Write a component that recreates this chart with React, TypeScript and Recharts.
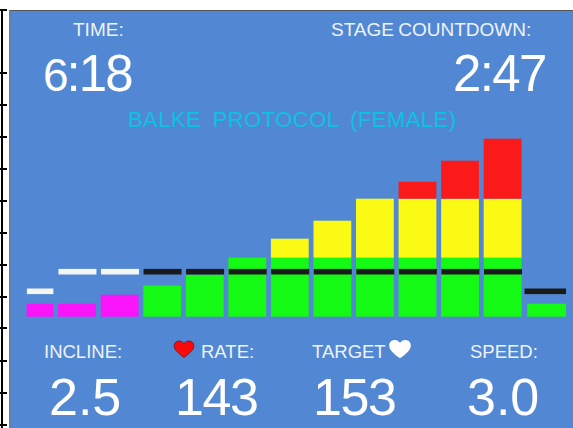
import React from 'react';
import { ComposedChart, Bar, Line, XAxis, YAxis } from 'recharts';

// Treadmill stage bars: heights in chart units (about one unit per pixel)
const stages = ['1', '2', '3', '4', '5', '6', '7', '8', '9', '10', '11', '12', '13'];
const magentaValues = [13, 13, 22, 0, 0, 0, 0, 0, 0, 0, 0, 0, 0];
const greenValues = [0, 0, 0, 31, 42, 59, 59, 59, 59, 59, 59, 59, 13];
const yellowValues = [0, 0, 0, 0, 0, 0, 19, 37, 59, 59, 59, 59, 0];
const redValues = [0, 0, 0, 0, 0, 0, 0, 0, 0, 17, 38, 60, 0];
const whiteMarks = [25.4, 45, 45, null, null, null, null, null, null, null, null, null, null];
const blackMarks = [null, null, null, 45, 45, 45, 45, 45, 45, 45, 45, 45, 25.4];

const rulerTicks = [10, 73, 105, 137, 169, 201, 233, 265, 297, 328, 361, 393, 425];

const data = stages.map((stage, i) => ({
  stage,
  magenta: magentaValues[i],
  green: greenValues[i],
  yellow: yellowValues[i],
  red: redValues[i],
  white: whiteMarks[i],
  black: blackMarks[i],
}));

const FONT = '"Liberation Sans", Arial, sans-serif';
const HEART = 'M10 17.5 C4 12.5 1 9.5 1 5.8 C1 3 3 1 5.6 1 C7.4 1 9 2 10 3.6 C11 2 12.6 1 14.4 1 C17 1 19 3 19 5.8 C19 9.5 16 12.5 10 17.5 Z';

// first and last stage are drawn a little off the regular slot
const StageBar = (props: any) => {
  const { x, y, width, height, fill, index } = props;
  if (!height) return null;
  let left = x;
  let w = width;
  if (index === 0) {
    left = x + 11;
    w = width - 11;
  }
  if (index === 12) {
    left = x + 1;
    w = width + 1;
  }
  return <rect x={left} y={y} width={w} height={height} fill={fill} />;
};

const makeMark = (color: string) => (props: any) => {
  const { cx, cy, index } = props;
  if (cy == null || cx == null) return <g key={index} />;
  let left = cx - 19;
  let w = 38;
  if (index === 0) {
    left = cx - 8;
    w = 26.5;
  }
  if (index === 12) {
    left = cx - 21;
    w = 41.5;
  }
  return <rect key={index} x={left} y={cy - 2.8} width={w} height={5.6} fill={color} />;
};

const Label = ({ x, y, size, color = '#eef3fb', spacing, wordSpacing, children }: any) => (
  <div
    style={{
      position: 'absolute',
      left: x,
      top: y,
      fontFamily: FONT,
      fontSize: size,
      lineHeight: 1,
      color,
      letterSpacing: spacing,
      wordSpacing,
      whiteSpace: 'nowrap',
    }}
  >
    {children}
  </div>
);

const App: React.FC = () => {
  return (
    <div style={{ position: 'absolute', left: 0, top: 0, width: 573, height: 428, background: '#fff', overflow: 'hidden' }}>
      {/* ruler on the left edge */}
      <div style={{ position: 'absolute', left: 1, top: 10, width: 2, height: 418, background: '#000' }} />
      {rulerTicks.map((t) => (
        <div key={t} style={{ position: 'absolute', left: 0, top: t - 1, width: 7, height: 2, background: '#000' }} />
      ))}

      <div
        style={{
          position: 'absolute',
          left: 9,
          top: 10,
          width: 564,
          height: 418,
          boxSizing: 'border-box',
          background: '#5288d3',
          borderTop: '1px solid #555',
          borderLeft: '2px solid #5f7fae',
        }}
      />

      <div style={{ position: 'absolute', left: 0, top: 0 }}>
        <ComposedChart
          width={573}
          height={428}
          data={data}
          margin={{ top: 136.7, right: 6.2, bottom: 111.3, left: 13.6 }}
          barCategoryGap={0}
          barSize={37.8}
        >
          <XAxis dataKey="stage" hide />
          <YAxis hide domain={[0, 180]} />
          <Bar dataKey="magenta" stackId="a" fill="#fa14fa" shape={StageBar} isAnimationActive={false} />
          <Bar dataKey="green" stackId="a" fill="#14fa14" shape={StageBar} isAnimationActive={false} />
          <Bar dataKey="yellow" stackId="a" fill="#fafa14" shape={StageBar} isAnimationActive={false} />
          <Bar dataKey="red" stackId="a" fill="#fa1a1a" shape={StageBar} isAnimationActive={false} />
          <Line dataKey="white" stroke="none" dot={makeMark('#f5f5f5')} activeDot={false} isAnimationActive={false} />
          <Line dataKey="black" stroke="none" dot={makeMark('#1a1a1a')} activeDot={false} isAnimationActive={false} />
        </ComposedChart>
      </div>

      <Label x={73} y={20} size={19}>TIME:</Label>
      <Label x={331} y={20} size={19} wordSpacing={-1}>STAGE COUNTDOWN:</Label>
      <Label x={43} y={48} size={51} color="#fff" spacing={-2}>
        <span style={{ fontSize: 46 }}>6</span>:18
      </Label>
      <Label x={453} y={48} size={51} color="#fff" spacing={-1.6}>2:47</Label>
      <Label x={128} y={109} size={22} color="#0cc2e2" spacing={0.45} wordSpacing={5}>BALKE PROTOCOL (FEMALE)</Label>

      <Label x={44} y={343} size={18.5}>INCLINE:</Label>
      <Label x={201} y={343} size={18.5}>RATE:</Label>
      <Label x={312} y={343} size={18.5}>TARGET</Label>
      <Label x={470} y={343} size={18.5}>SPEED:</Label>

      <svg width={22} height={19} viewBox="0 0 20 19" preserveAspectRatio="none" style={{ position: 'absolute', left: 173, top: 340 }}>
        <path d={HEART} fill="#fa0a0a" stroke="#7a1020" strokeWidth={0.8} />
      </svg>
      <svg width={24} height={21} viewBox="0 0 20 19" preserveAspectRatio="none" style={{ position: 'absolute', left: 388, top: 339 }}>
        <path d={HEART} fill="#fff" />
      </svg>

      <Label x={49} y={371} size={52} color="#fff">2.5</Label>
      <Label x={175} y={371} size={52} color="#fff" spacing={-1.4}>143</Label>
      <Label x={313} y={371} size={52} color="#fff" spacing={-1.4}>153</Label>
      <Label x={467} y={371} size={52} color="#fff">3.0</Label>
    </div>
  );
};

export default App;
